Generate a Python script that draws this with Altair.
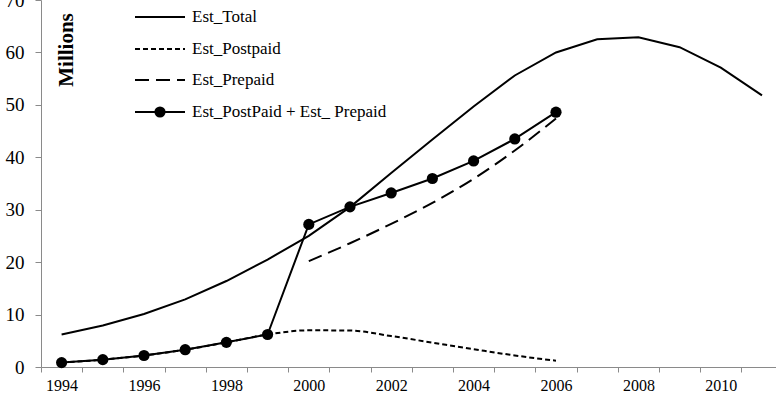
import altair as alt
import pandas as pd

# Subscriber estimates, millions
years = list(range(1994, 2012))
est_total = [6.2, 7.9, 10.1, 12.9, 16.4, 20.5, 25.0, 30.5, 37.0, 43.4,
             49.7, 55.6, 60.0, 62.5, 62.9, 61.0, 57.1, 51.8]

postpaid_years = list(range(1994, 2007))
est_postpaid = [0.84, 1.4, 2.2, 3.3, 4.7, 6.2, 7.0, 6.95, 5.9, 4.65, 3.4, 2.2, 1.2]

prepaid_years = list(range(2000, 2007))
est_prepaid = [20.2, 23.6, 27.3, 31.3, 35.9, 41.3, 47.4]

combined_years = list(range(1994, 2007))
est_combined = [0.84, 1.4, 2.2, 3.3, 4.7, 6.2, 27.2, 30.55, 33.2, 35.95,
                39.3, 43.5, 48.6]

legend_labels = ["Est_Total", "Est_Postpaid", "Est_Prepaid",
                 "Est_PostPaid + Est_ Prepaid"]
y_ticks = [0, 10, 20, 30, 40, 50, 60, 70]

FONT = "Liberation Serif"
AXIS_GREY = "#8a8a8a"
BAND = 41.2  # pixel width of one year
DOT = 125

total_df = pd.DataFrame({"year": years, "value": est_total})
post_df = pd.DataFrame({"year": postpaid_years, "value": est_postpaid})
pre_df = pd.DataFrame({"year": prepaid_years, "value": est_prepaid})
comb_df = pd.DataFrame({"year": combined_years, "value": est_combined})

x_scale = alt.Scale(domain=[1993.5, 2011.34], nice=False, zero=False)
y_scale = alt.Scale(domain=[0, 70], nice=False)

x_enc = alt.X(
    "year:Q",
    scale=x_scale,
    axis=alt.Axis(
        title=None,
        values=years,
        format="d",
        labelExpr="datum.value % 2 == 0 ? datum.label : ''",
        tickOffset=-BAND / 2,
        labelOffset=BAND / 2,
        tickSize=5,
        labelPadding=5,
        labelFontSize=16,
        labelFont=FONT,
        labelColor="black",
        labelOverlap=False,
        labelFlush=False,
        grid=False,
        domainColor=AXIS_GREY,
        tickColor=AXIS_GREY,
    ),
)
y_enc = alt.Y(
    "value:Q",
    scale=y_scale,
    axis=alt.Axis(
        title=None,
        values=y_ticks,
        tickSize=6,
        labelPadding=11,
        labelFontSize=19,
        labelFont=FONT,
        labelColor="black",
        labelFlush=False,
        grid=False,
        domainColor=AXIS_GREY,
        tickColor=AXIS_GREY,
    ),
)

total_line = alt.Chart(total_df).mark_line(color="black", strokeWidth=2).encode(
    x=x_enc, y=y_enc
)
post_line = alt.Chart(post_df).mark_line(
    color="black", strokeWidth=2, strokeDash=[5, 3], interpolate="monotone"
).encode(x="year:Q", y="value:Q")
pre_line = alt.Chart(pre_df).mark_line(
    color="black", strokeWidth=2, strokeDash=[14, 7], interpolate="monotone"
).encode(x="year:Q", y="value:Q")
comb_line = alt.Chart(comb_df).mark_line(color="black", strokeWidth=2).encode(
    x="year:Q", y="value:Q"
)
comb_pts = alt.Chart(comb_df).mark_point(
    filled=True, color="black", size=DOT, opacity=1
).encode(x="year:Q", y="value:Q")

# Axis caption inside the plot
one = pd.DataFrame({"k": [0]})
caption = alt.Chart(one).mark_text(
    text="Millions", angle=270, font=FONT, fontSize=21, fontWeight="bold",
    align="center", baseline="middle", color="black"
).encode(x=alt.value(26), y=alt.value(50))

# Legend block
legend_dash = [[1, 0], [5, 3], [14, 7], [1, 0]]
legend_y = [17, 49, 80, 112]
legend_layers = []
for label, dash, ly in zip(legend_labels, legend_dash, legend_y):
    legend_layers.append(
        alt.Chart(one).mark_rule(color="black", strokeWidth=2, strokeDash=dash).encode(
            x=alt.value(94), x2=alt.value(144), y=alt.value(ly)
        )
    )
    legend_layers.append(
        alt.Chart(one).mark_text(
            text=label, font=FONT, fontSize=17, align="left",
            baseline="middle", color="black"
        ).encode(x=alt.value(151), y=alt.value(ly))
    )
legend_layers.append(
    alt.Chart(one).mark_point(filled=True, color="black", size=DOT, opacity=1).encode(
        x=alt.value(119), y=alt.value(legend_y[3])
    )
)

chart = alt.layer(
    total_line, post_line, pre_line, comb_line, comb_pts, caption, *legend_layers
).properties(
    width=735,
    height=367,
    padding={"left": 41, "top": 0, "right": 0, "bottom": 33},
    autosize=alt.AutoSizeParams(type="none"),
    background="white",
).configure_view(strokeWidth=0)

chart.save("out.html", embed_options={"renderer": "svg", "actions": False})
